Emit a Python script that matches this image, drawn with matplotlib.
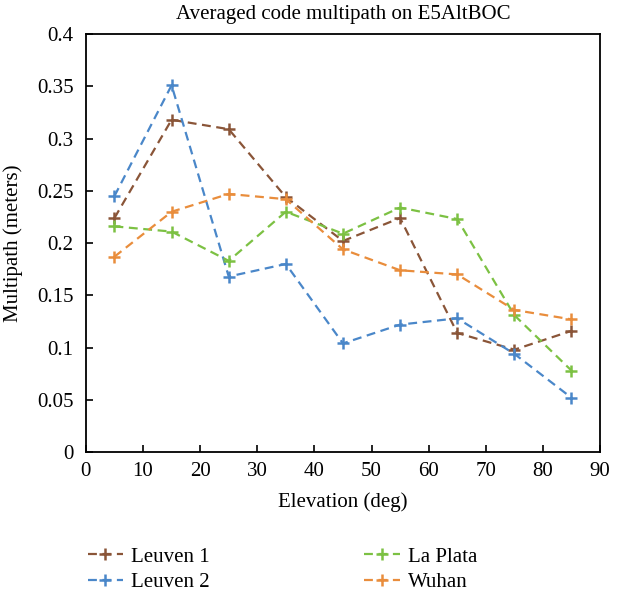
import numpy as np
import matplotlib.pyplot as plt

plt.rcParams['font.family'] = ['Liberation Serif', 'DejaVu Serif']

# elevation bins (deg) and averaged multipath (m) per station
elev = np.array([5, 15, 25, 35, 45, 55, 65, 75, 85])
leuven1 = [0.224, 0.318, 0.309, 0.244, 0.202, 0.224, 0.114, 0.098, 0.116]
leuven2 = [0.245, 0.351, 0.168, 0.180, 0.104, 0.122, 0.128, 0.094, 0.052]
la_plata = [0.216, 0.211, 0.183, 0.230, 0.209, 0.234, 0.223, 0.131, 0.078]
wuhan = [0.187, 0.230, 0.247, 0.242, 0.194, 0.174, 0.170, 0.136, 0.127]

series = [
    ('Leuven 1', leuven1, '#8a5538'),
    ('Leuven 2', leuven2, '#4a87c9'),
    ('La Plata', la_plata, '#7cc143'),
    ('Wuhan', wuhan, '#e98d3c'),
]

fig = plt.figure(figsize=(6.27, 5.98), dpi=100)
ax = fig.add_axes([0.137, 0.244, 0.820, 0.699])

handles = {}
for name, vals, col in series:
    h, = ax.plot(elev, vals, linestyle=(0, (4, 2.5)), color=col, lw=1.6,
                 marker='+', markersize=9, markeredgewidth=1.8, label=name)
    handles[name] = h

ax.set_xlim(0, 90)
ax.set_ylim(0, 0.4)
ax.set_xticks(np.arange(0, 91, 10))
ax.set_yticks(np.arange(0, 0.41, 0.05))
ax.set_yticklabels(['0', '0.05', '0.1', '0.15', '0.2', '0.25', '0.3', '0.35', '0.4'])
ax.tick_params(direction='in', labelsize=15, length=5, width=1.2)
ax.tick_params(axis='y', pad=9)
ax.tick_params(axis='x', pad=7)
for s in ax.spines.values():
    s.set_linewidth(1.3)

ax.set_title('Averaged code multipath on E5AltBOC', fontsize=15, pad=11)
ax.set_xlabel('Elevation (deg)', fontsize=15, labelpad=8)
ax.set_ylabel('Multipath (meters)', fontsize=15, labelpad=10)

order = ['Leuven 1', 'Leuven 2', 'La Plata', 'Wuhan']
fig.legend([handles[n] for n in order], order, ncol=2, loc='lower left',
           bbox_to_anchor=(0.11, -0.022), frameon=False, fontsize=15,
           columnspacing=7.4, handlelength=1.7, handletextpad=0.4, labelspacing=0.3)

fig.savefig('out.png', dpi=100)
